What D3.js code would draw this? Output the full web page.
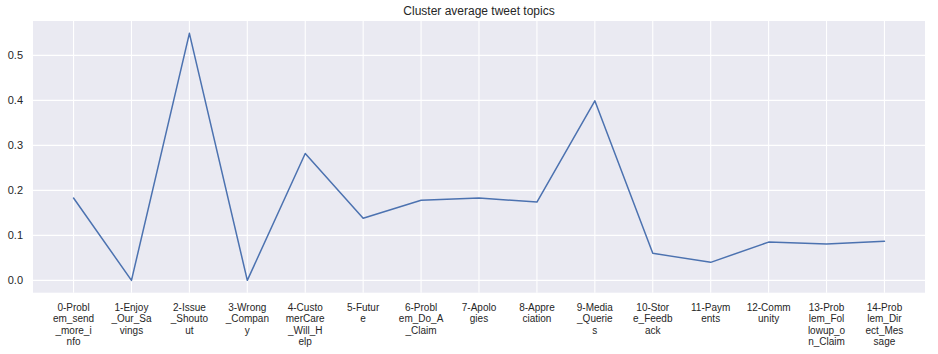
<!DOCTYPE html>
<html>
<head>
<meta charset="utf-8">
<script src="https://cdn.jsdelivr.net/npm/d3@7"></script>
<style>
  body { margin: 0; background: #fff; }
  svg { display: block; }
  text { font-family: Arial, "Liberation Sans", sans-serif; fill: #262626; }
</style>
</head>
<body>
<svg id="chart" width="938" height="354"></svg>
<script>
const title = "Cluster average tweet topics";
const categories = [
  "0-Problem_send_more_info", "1-Enjoy_Our_Savings", "2-Issue_Shoutout",
  "3-Wrong_Company", "4-CustomerCare_Will_Help", "5-Future",
  "6-Problem_Do_A_Claim", "7-Apologies", "8-Appreciation",
  "9-Media_Queries", "10-Store_Feedback", "11-Payments",
  "12-Community", "13-Problem_Followup_on_Claim", "14-Problem_Direct_Message"
];
const values = [0.183, 0.0, 0.549, 0.0, 0.282, 0.138, 0.178, 0.183, 0.174,
                0.399, 0.060, 0.040, 0.085, 0.081, 0.087];
const yTicks = [0.0, 0.1, 0.2, 0.3, 0.4, 0.5];

const svg = d3.select("#chart");
const pLeft = 33, pRight = 925, pTop = 21, pBottom = 292.7;

const n = categories.length;
const xm = (n - 1) * 0.05;
const x = d3.scaleLinear().domain([-xm, n - 1 + xm]).range([pLeft, pRight]);
const ymax = d3.max(values), ymin = d3.min(values);
const ym = (ymax - ymin) * 0.05;
const y = d3.scaleLinear().domain([ymin - ym, ymax + ym]).range([pBottom, pTop]);

svg.append("rect").attr("x", pLeft).attr("y", pTop)
  .attr("width", pRight - pLeft).attr("height", pBottom - pTop).attr("fill", "#EAEAF2");

// grid
svg.append("g").selectAll("line").data(d3.range(n)).join("line")
  .attr("x1", d => x(d)).attr("x2", d => x(d)).attr("y1", pTop).attr("y2", pBottom)
  .attr("stroke", "#fff").attr("stroke-width", 1.1);
svg.append("g").selectAll("line").data(yTicks).join("line")
  .attr("x1", pLeft).attr("x2", pRight).attr("y1", d => y(d)).attr("y2", d => y(d))
  .attr("stroke", "#fff").attr("stroke-width", 1.1);

// y axis labels
const yAxis = d3.axisLeft(y).tickValues(yTicks).tickFormat(d3.format(".1f")).tickSize(0).tickPadding(10);
const gy = svg.append("g").attr("transform", `translate(${pLeft},0)`).call(yAxis);
gy.select(".domain").remove();
gy.selectAll("text").style("font-size", "11px").attr("fill", "#262626")
  .style("font-family", 'Arial, "Liberation Sans", sans-serif');

// x labels, wrapped in chunks of 7 chars
const gx = svg.append("g");
categories.forEach((c, i) => {
  const chunks = c.match(/.{1,7}/g);
  const t = gx.append("text").attr("x", x(i)).attr("y", 311)
    .attr("text-anchor", "middle").style("font-size", "10px");
  chunks.forEach((ch, j) => {
    t.append("tspan").attr("x", x(i)).attr("y", 311 + j * 11.3).text(ch);
  });
});

// line
const line = d3.line().x((d, i) => x(i)).y(d => y(d));
svg.append("path").datum(values).attr("d", line)
  .attr("fill", "none").attr("stroke", "#4C72B0").attr("stroke-width", 1.5)
  .attr("stroke-linejoin", "round").attr("stroke-linecap", "round");

// title
svg.append("text").attr("x", (pLeft + pRight) / 2).attr("y", 15)
  .attr("text-anchor", "middle").style("font-size", "12px").text(title);
</script>
</body>
</html>
